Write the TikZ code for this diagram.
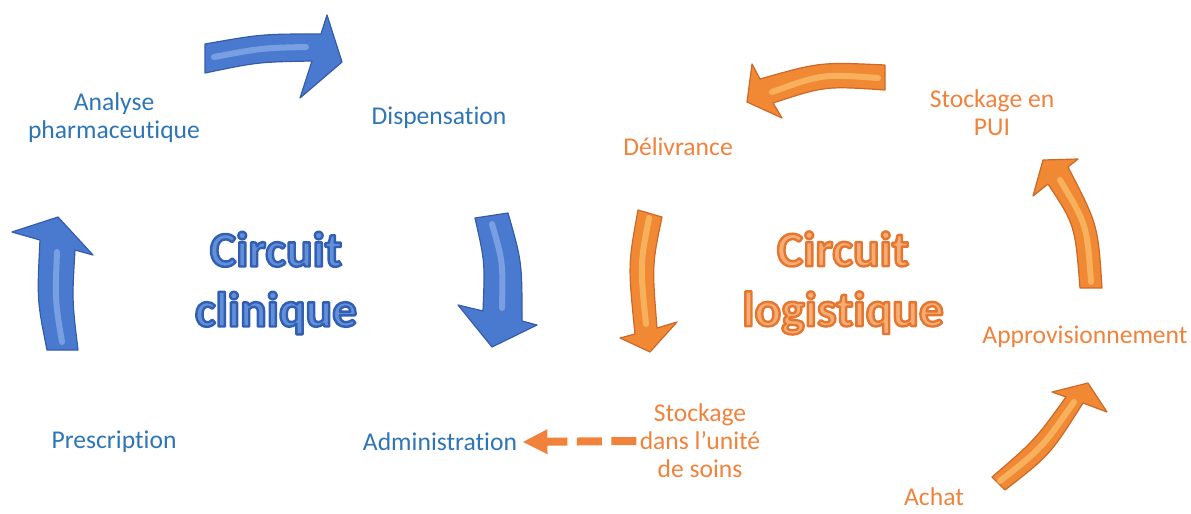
\documentclass[tikz,border=0pt]{standalone}
\usepackage{fontspec}
\setmainfont{Carlito}[Ligatures=NoCommon]
\usetikzlibrary{arrows.meta}
\definecolor{clinblue}{RGB}{46,117,182}
\definecolor{logorange}{RGB}{240,130,60}
\definecolor{arrblue}{RGB}{74,122,208}
\definecolor{arrblueedge}{RGB}{52,92,170}
\definecolor{arrbluelight}{RGB}{165,196,242}
\definecolor{arrorange}{RGB}{240,136,52}
\definecolor{arrorangeedge}{RGB}{205,105,40}
\definecolor{arrorangelight}{RGB}{255,218,135}
\definecolor{titleblue}{RGB}{98,144,216}
\definecolor{titleorange}{RGB}{246,172,115}

% fill the glyphs and stroke their outline (text render mode 2)
\makeatletter
\newcommand\outlined[2]{\pgfsys@invoke{q #1 RG 1.2 w 1 j 2 Tr}#2\pgfsys@invoke{Q}}
\makeatother
\newcommand\bluerim{0.196 0.373 0.706}
\newcommand\orangerim{0.894 0.463 0.188}

\tikzset{
  lbl/.style={align=center,inner sep=0pt,font=\fontsize{12.8}{14}\selectfont},
  bigtitle/.style={align=center,inner sep=0pt,font=\fontsize{24.8}{30}\selectfont\bfseries},
  bluearr/.style={fill=arrblue,draw=arrblueedge,line width=0.6pt,line join=round},
  orangearr/.style={fill=arrorange,draw=arrorangeedge,line width=0.6pt,line join=round},
  shine/.style={line width=3pt,line cap=round,opacity=0.5},
  dasharrow/.style={logorange,line width=4pt,dash pattern=on 12.5pt off 4.75pt,
    -{Triangle[length=12.5pt,width=11.5pt]}}
}

\begin{document}
\begin{tikzpicture}[x=0.5pt,y=-0.5pt]
  \useasboundingbox (0,0) rectangle (1191,514);

  % step labels
  \foreach \nm/\xy/\txt in {ana/{114,118}/{Analyse\\pharmaceutique},disp/{439,118}/Dispensation,
      admin/{440,442}/Administration,presc/{114,442}/Prescription}
    \node[lbl,clinblue] (\nm) at (\xy) {\txt};
  \foreach \nm/\xy/\txt in {deliv/{678,147}/Délivrance,pui/{992,113}/{Stockage en\\PUI},
      appro/{1085,337}/Approvisionnement,achat/{934,497}/Achat,
      stock/{700,441}/{Stockage\\dans l’unité\\de soins}}
    \node[lbl,logorange] (\nm) at (\xy) {\txt};

  % outlined titles
  \node[bigtitle,titleblue] (clin) at (276,283)
    {\outlined{\bluerim}{Circuit}\\\outlined{\bluerim}{clinique}};
  \node[bigtitle,titleorange] (logi) at (843,283)
    {\outlined{\orangerim}{Circuit}\\\outlined{\orangerim}{logistique}};

  % clinical loop
  \draw[bluearr] (205,44) .. controls (262,34) .. (321,34) -- (327,15) -- (342,62) -- (300,98)
    -- (312,61) .. controls (258,62) .. (205,73) -- cycle;
  \draw[shine,arrbluelight] (214,57) .. controls (262,48) .. (306,47);
  \draw[bluearr] (475,218) .. controls (485,262) .. (483,311) -- (458,305) -- (492,347) -- (537,325)
    -- (522,321) .. controls (522,262) .. (508,213) -- cycle;
  \draw[shine,arrbluelight] (492,224) .. controls (503,262) .. (502,308);
  \draw[bluearr] (47,350) .. controls (37,300) .. (40,240) -- (12,232) -- (58,217) -- (93,255)
    -- (75,250) .. controls (72,300) .. (78,350) -- cycle;
  \draw[shine,arrbluelight] (62,342) .. controls (55,300) .. (57,252);

  % logistic loop
  \draw[orangearr] (885,65) .. controls (820,62) .. (760,79) -- (752,64) -- (747,102) -- (782,118)
    -- (773,103) .. controls (825,86) .. (885,90) -- cycle;
  \draw[shine,arrorangelight] (878,78) .. controls (822,74) .. (772,92);
  \draw[orangearr] (638,210) .. controls (628,265) .. (635,334) -- (620,338) -- (650,352) -- (677,322)
    -- (657,328) .. controls (652,265) .. (662,217) -- cycle;
  \draw[shine,arrorangelight] (649,218) .. controls (640,265) .. (646,324);
  \draw[orangearr] (1080,288) .. controls (1075,225) .. (1048,184) -- (1033,196) -- (1043,160)
    -- (1078,159) -- (1068,167) .. controls (1098,225) .. (1102,288) -- cycle;
  \draw[shine,arrorangelight] (1091,282) .. controls (1087,225) .. (1060,180);
  \draw[orangearr] (992,477) .. controls (1035,440) .. (1066,397) -- (1052,392) -- (1088,383)
    -- (1107,412) -- (1083,403) .. controls (1050,455) .. (1005,490) -- cycle;
  \draw[shine,arrorangelight] (1000,481) .. controls (1042,448) .. (1074,402);

  \draw[dasharrow,shorten <=1.5pt,shorten >=2.5pt] (stock.west) -- (admin.east);
\end{tikzpicture}
\end{document}
